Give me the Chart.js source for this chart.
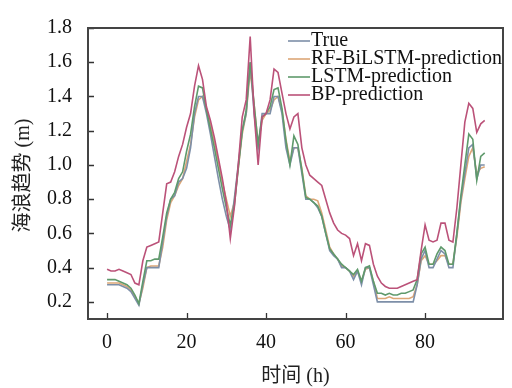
<!DOCTYPE html>
<html>
<head>
<meta charset="utf-8">
<script src="https://cdn.jsdelivr.net/npm/chart.js@4.4.1/dist/chart.umd.min.js"></script>
<style>
  html, body { margin: 0; padding: 0; background: #ffffff; }
  #wrap { width: 512px; height: 388px; }
</style>
</head>
<body>
<div id="wrap"><canvas id="waveChart"></canvas></div>
<script>
// ======================================
// Data
// ======================================

const hours = [
    0, 1, 2, 3, 4, 5, 6, 7, 8, 9, 10, 11, 12, 13, 14, 15,
    16, 17, 18, 19, 20, 21, 22, 23, 24, 25, 26, 27, 28, 29, 30, 31,
    32, 33, 34, 35, 36, 37, 38, 39, 40, 41, 42, 43, 44, 45, 46, 47,
    48, 49, 50, 51, 52, 53, 54, 55, 56, 57, 58, 59, 60, 61, 62, 63,
    64, 65, 66, 67, 68, 69, 70, 71, 72, 73, 74, 75, 76, 77, 78, 79,
    80, 81, 82, 83, 84, 85, 86, 87, 88, 89, 90, 91, 92, 93, 94, 95
];

const trueValues = [
    0.30, 0.30, 0.30, 0.30, 0.29, 0.28, 0.26, 0.22, 0.18, 0.30, 0.40, 0.40, 0.40, 0.40, 0.55, 0.70,
    0.80, 0.82, 0.90, 0.92, 0.98, 1.10, 1.30, 1.40, 1.40, 1.30, 1.18, 1.05, 0.92, 0.80, 0.70, 0.62,
    0.80, 1.00, 1.20, 1.30, 1.60, 1.30, 1.10, 1.30, 1.30, 1.30, 1.40, 1.40, 1.30, 1.10, 1.00, 1.10,
    1.10, 0.95, 0.80, 0.80, 0.78, 0.75, 0.70, 0.60, 0.50, 0.47, 0.45, 0.40, 0.40, 0.38, 0.33, 0.38,
    0.30, 0.40, 0.40, 0.30, 0.20, 0.20, 0.20, 0.20, 0.20, 0.20, 0.20, 0.20, 0.20, 0.20, 0.30, 0.45,
    0.50, 0.40, 0.40, 0.45, 0.50, 0.48, 0.40, 0.40, 0.60, 0.80, 0.95, 1.10, 1.12, 0.92, 1.00, 1.00
];

const rfValues = [
    0.31, 0.31, 0.31, 0.31, 0.30, 0.29, 0.27, 0.23, 0.19, 0.28, 0.40, 0.41, 0.41, 0.41, 0.52, 0.68,
    0.78, 0.82, 0.88, 0.92, 1.02, 1.12, 1.28, 1.38, 1.40, 1.33, 1.24, 1.13, 1.02, 0.90, 0.80, 0.70,
    0.78, 0.98, 1.18, 1.30, 1.55, 1.35, 1.12, 1.26, 1.30, 1.32, 1.38, 1.40, 1.32, 1.15, 1.02, 1.10,
    1.10, 0.98, 0.82, 0.80, 0.80, 0.79, 0.72, 0.62, 0.52, 0.48, 0.45, 0.41, 0.40, 0.38, 0.35, 0.38,
    0.32, 0.39, 0.40, 0.32, 0.22, 0.22, 0.22, 0.23, 0.22, 0.22, 0.22, 0.22, 0.22, 0.23, 0.30, 0.44,
    0.47, 0.42, 0.42, 0.44, 0.47, 0.47, 0.42, 0.42, 0.58, 0.78, 0.92, 1.05, 1.10, 0.95, 0.98, 0.99
];

const lstmValues = [
    0.33, 0.33, 0.33, 0.32, 0.31, 0.30, 0.28, 0.24, 0.19, 0.32, 0.44, 0.44, 0.45, 0.45, 0.58, 0.72,
    0.80, 0.84, 0.92, 0.96, 1.08, 1.18, 1.34, 1.46, 1.45, 1.32, 1.21, 1.10, 0.98, 0.86, 0.75, 0.65,
    0.76, 0.98, 1.20, 1.32, 1.60, 1.35, 1.12, 1.28, 1.30, 1.34, 1.44, 1.45, 1.33, 1.14, 1.00, 1.17,
    1.12, 0.97, 0.81, 0.80, 0.78, 0.76, 0.70, 0.60, 0.51, 0.48, 0.45, 0.42, 0.40, 0.38, 0.36, 0.39,
    0.32, 0.40, 0.41, 0.32, 0.25, 0.25, 0.24, 0.25, 0.24, 0.24, 0.25, 0.25, 0.26, 0.27, 0.33, 0.48,
    0.52, 0.42, 0.42, 0.48, 0.52, 0.50, 0.42, 0.42, 0.60, 0.82, 1.00, 1.18, 1.15, 0.91, 1.05, 1.07
];

const bpValues = [
    0.39, 0.38, 0.38, 0.39, 0.38, 0.37, 0.36, 0.31, 0.30, 0.44, 0.52, 0.53, 0.54, 0.55, 0.72, 0.89,
    0.90, 0.96, 1.05, 1.12, 1.22, 1.30, 1.46, 1.58, 1.50, 1.34, 1.26, 1.16, 1.04, 0.92, 0.78, 0.57,
    0.75, 1.00, 1.28, 1.38, 1.75, 1.30, 1.00, 1.28, 1.30, 1.38, 1.56, 1.54, 1.42, 1.30, 1.21, 1.28,
    1.30, 1.10, 1.00, 0.94, 0.92, 0.90, 0.88, 0.80, 0.72, 0.66, 0.62, 0.60, 0.59, 0.57, 0.47, 0.54,
    0.44, 0.54, 0.53, 0.42, 0.35, 0.31, 0.29, 0.28, 0.28, 0.28, 0.29, 0.30, 0.31, 0.32, 0.33, 0.50,
    0.65, 0.56, 0.55, 0.56, 0.66, 0.66, 0.56, 0.55, 0.75, 1.00, 1.25, 1.36, 1.33, 1.19, 1.24, 1.26
];

const seriesLabels = ["True", "RF-BiLSTM-prediction", "LSTM-prediction", "BP-prediction"];
const xTickValues = [0, 20, 40, 60, 80];
const xTitle = "时间 (h)";
const yTitle = "海浪趋势 (m)";

// ======================================
// Helpers
// ======================================

const serifFont = "'Liberation Serif', 'Noto Sans CJK SC', serif";

function toPoints(values) {
    return values.map((v, i) => ({ x: hours[i], y: v }));
}

function makeDataset(label, values, color, order) {
    return {
        label: label,
        data: toPoints(values),
        borderColor: color,
        borderWidth: 1.6,
        tension: 0,
        pointRadius: 0,
        fill: false,
        order: order
    };
}

// frame, inward ticks, legend and axis titles
const decorPlugin = {
    id: "decor",
    afterDraw(chart) {
        const ctx = chart.ctx;
        const area = chart.chartArea;
        const xs = chart.scales.x;
        const ys = chart.scales.y;

        ctx.save();

        // inward tick marks
        ctx.strokeStyle = "#333";
        ctx.lineWidth = 1.3;
        ctx.beginPath();
        xs.ticks.forEach(t => {
            const px = Math.round(xs.getPixelForValue(t.value)) + 0.5;
            ctx.moveTo(px, area.bottom);
            ctx.lineTo(px, area.bottom - 6);
        });
        ys.ticks.forEach(t => {
            const py = Math.round(ys.getPixelForValue(t.value)) + 0.5;
            ctx.moveTo(area.left, py);
            ctx.lineTo(area.left + 6, py);
        });
        ctx.stroke();

        // frame
        ctx.strokeStyle = "#444";
        ctx.lineWidth = 2;
        ctx.strokeRect(area.left, area.top, area.right - area.left, area.bottom - area.top);

        // legend
        ctx.font = "20px " + serifFont;
        ctx.textBaseline = "middle";
        ctx.textAlign = "left";
        chart.data.datasets.forEach((ds, i) => {
            const ly = area.top + 13 + i * 18;
            ctx.strokeStyle = ds.borderColor;
            ctx.lineWidth = 1.6;
            ctx.beginPath();
            ctx.moveTo(288, ly);
            ctx.lineTo(310, ly);
            ctx.stroke();
            ctx.fillStyle = "#111";
            ctx.fillText(ds.label, 311, ly);
        });

        // axis titles
        ctx.fillStyle = "#222";
        ctx.textAlign = "center";
        ctx.fillText(xTitle, (area.left + area.right) / 2, 377);

        ctx.translate(24, (area.top + area.bottom) / 2 + 2);
        ctx.rotate(-Math.PI / 2);
        ctx.fillText(yTitle, 0, 0);

        ctx.restore();
    }
};

// ======================================
// Create Chart
// ======================================

const ctx = document.getElementById("waveChart").getContext("2d");

const waveChart = new Chart(ctx, {

    type: "line",

    data: {
        datasets: [
            makeDataset(seriesLabels[0], trueValues, "#7d8fa8", 3),
            makeDataset(seriesLabels[1], rfValues, "#dca676", 4),
            makeDataset(seriesLabels[2], lstmValues, "#5f9a6c", 2),
            makeDataset(seriesLabels[3], bpValues, "#bb5279", 1)
        ]
    },

    options: {
        responsive: true,
        maintainAspectRatio: false,
        animation: false,
        layout: {
            padding: { top: 17, right: 9, left: 0, bottom: 0 }
        },
        plugins: {
            legend: { display: false },
            tooltip: { enabled: false }
        },
        scales: {
            x: {
                type: "linear",
                min: -4.8,
                max: 99.6,
                afterFit(scale) { scale.height = 69; },
                afterBuildTicks(scale) {
                    scale.ticks = xTickValues.map(v => ({ value: v }));
                },
                grid: { display: false, drawTicks: false },
                border: { display: false },
                ticks: {
                    padding: 12,
                    color: "#111",
                    font: { family: serifFont, size: 20 },
                    maxRotation: 0,
                    callback: v => String(v)
                }
            },
            y: {
                type: "linear",
                min: 0.1,
                max: 1.8,
                afterFit(scale) { scale.width = 88; },
                grid: { display: false, drawTicks: false },
                border: { display: false },
                ticks: {
                    stepSize: 0.2,
                    includeBounds: false,
                    padding: 16,
                    color: "#111",
                    font: { family: serifFont, size: 20 },
                    callback: v => Number(v).toFixed(1)
                }
            }
        }
    },

    plugins: [decorPlugin]

});
</script>
</body>
</html>
